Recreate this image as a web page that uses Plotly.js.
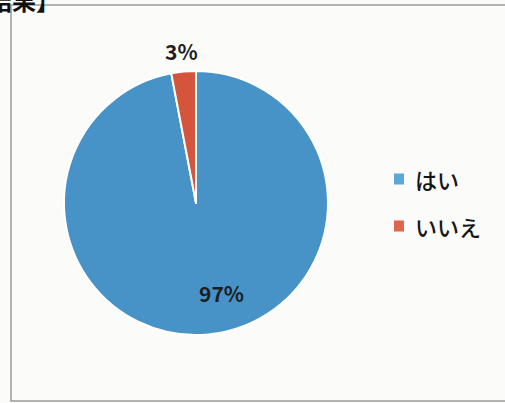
<!DOCTYPE html>
<html><head><meta charset="utf-8">
<script src="https://cdn.plot.ly/plotly-3.0.1.min.js"></script>
<style>html,body{margin:0;padding:0;background:#fbfbfa;}#chart{width:505px;height:403px;}</style>
</head><body><div id="chart"></div>
<script>
const labels = ['はい', 'いいえ'];
const values = [97, 3];
const colors = ['#4793c8', '#d5553c'];
const legendColors = ['#5aa8d6', '#e0654a'];
const headingText = '調査結果】';

const FONT = '"Noto Sans CJK JP", "Noto Sans", sans-serif';
const W = 505, H = 403;
const cx = 196, cy = 203, R = 132;

const trace = {
  type: 'pie',
  labels: labels,
  values: values,
  sort: false,
  direction: 'clockwise',
  rotation: 0,
  marker: {colors: colors, line: {color: '#ffffff', width: 2}},
  textinfo: 'none',
  domain: {x: [(cx - R) / W, (cx + R) / W], y: [(H - cy - R) / H, (H - cy + R) / H]},
  hoverinfo: 'label+percent',
  showlegend: false
};

// percentage labels placed from the slice geometry
const total = values.reduce((a, b) => a + b, 0);
const annotations = [];
let cum = 0;
values.forEach((v, i) => {
  const mid = (cum + v / 2) / total * 360;
  cum += v;
  const inside = v / total > 0.5;
  const ang = (inside ? mid - 10.5 : mid) * Math.PI / 180;
  const r = inside ? R * 0.71 : R + 21;
  const px = cx + r * Math.sin(ang);
  const py = cy - r * Math.cos(ang);
  annotations.push({
    text: Math.round(v / total * 100) + '%',
    xref: 'paper', yref: 'paper', x: px / W, y: (H - py) / H,
    xanchor: 'center', yanchor: 'middle', showarrow: false,
    font: {family: FONT, size: 21, color: '#1e1e1e', weight: 'bold'}
  });
});

// legend
const shapes = [{
  type: 'rect', xref: 'paper', yref: 'paper',
  x0: 11 / W, x1: 520 / W, y0: (H - 401) / H, y1: (H - 5) / H,
  line: {color: '#9a9a9a', width: 1.5}, fillcolor: 'rgba(0,0,0,0)'
}];
labels.forEach((lab, i) => {
  const yc = 179 + 47 * i;
  shapes.push({
    type: 'rect', xref: 'paper', yref: 'paper',
    x0: 394 / W, x1: 404 / W, y0: (H - yc - 5.5) / H, y1: (H - yc + 5.5) / H,
    line: {width: 0}, fillcolor: legendColors[i]
  });
  annotations.push({
    text: lab, xref: 'paper', yref: 'paper', x: 413 / W, y: (H - yc) / H,
    xanchor: 'left', yanchor: 'middle', showarrow: false,
    font: {family: FONT, size: 22, color: '#151515', weight: 500}
  });
});

annotations.push({
  text: headingText, xref: 'paper', yref: 'paper',
  x: 62 / W, y: (H + 20) / H, xanchor: 'right', yanchor: 'top',
  showarrow: false,
  font: {family: FONT, size: 24, color: '#111111', weight: 'bold'}
});

const layout = {
  width: W, height: H,
  margin: {l: 0, r: 0, t: 0, b: 0},
  paper_bgcolor: '#fbfbfa',
  plot_bgcolor: '#fbfbfa',
  showlegend: false,
  shapes: shapes,
  annotations: annotations
};

Plotly.newPlot('chart', [trace], layout, {displayModeBar: false, staticPlot: true});
</script></body></html>
